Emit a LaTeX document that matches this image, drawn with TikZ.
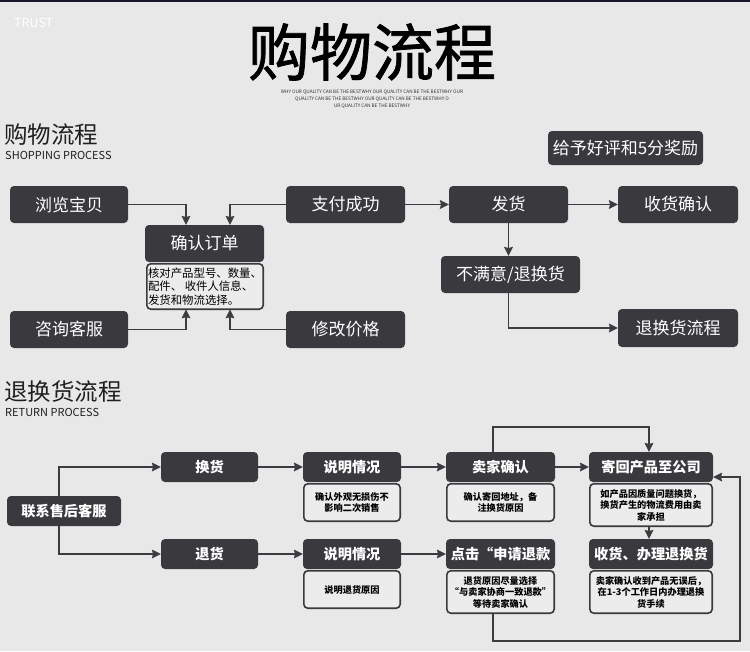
\documentclass[tikz,border=0pt]{standalone}
\usepackage{fontspec}
\setmainfont{Noto Sans CJK SC}
\newfontfamily\titlefont{Noto Sans CJK SC}[FakeBold=1.2]
\usetikzlibrary{arrows.meta}
\definecolor{bgc}{HTML}{E8E8E8}
\definecolor{boxc}{HTML}{3A393E}
\definecolor{linec}{HTML}{3C3B40}
\definecolor{detc}{HTML}{ECECEC}
\definecolor{navy}{HTML}{16162C}
\begin{document}
\begin{tikzpicture}[x=1pt,y=-1pt,
 dbox/.style={fill=boxc, rounded corners=4pt, text=white, inner sep=0pt, outer sep=0pt, align=center},
 tbox/.style={dbox, font=\fontsize{17}{20}\selectfont, minimum height=37pt},
 bbox/.style={dbox, font=\bfseries\fontsize{14.2}{17}\selectfont, minimum height=30pt},
 det/.style={draw=boxc, line width=1.6pt, fill=detc, rounded corners=4pt, inner sep=0pt, outer sep=0pt, align=center, font=\bfseries\fontsize{9.2}{11.5}\selectfont, text=black},
 arr/.style={draw=linec, line width=1.8pt, -{Stealth[length=9pt,width=8.5pt,inset=1pt]}},
 head/.style={anchor=west, inner sep=0pt, text=black!88},
]
\useasboundingbox (0,0) rectangle (750,651);
\fill[bgc] (0,0) rectangle (750,651);
\fill[navy] (0,0) rectangle (750,1.5);

% header
\node[head, text=white, font=\fontsize{12.5}{14}\selectfont] (trust) at (14,23) {TRUST};
\node[inner sep=0pt, font=\titlefont\fontsize{62}{62}\selectfont, text=black] (title) at (372,52) {购物流程};
\node[inner sep=0pt, align=center, text=black!80, font=\fontsize{4.7}{7}\selectfont] (tag) at (372,99)
 {WHY OUR QUALITY CAN BE THE BESTWHY OUR QUALITY CAN BE THE BESTWHY OUR\\QUALITY CAN BE THE BESTWHY OUR QUALITY CAN BE THE BESTWHY O\\UR QUALITY CAN BE THE BESTWHY};

% section 1 heading
\node[head, font=\fontsize{23.5}{26}\selectfont] (h1) at (4,135) {购物流程};
\node[head, font=\fontsize{11}{13}\selectfont] (h1e) at (5,155) {SHOPPING PROCESS};

% section 1 boxes
\node[tbox, minimum width=155pt, minimum height=34pt] (reward) at (625.5,148) {给予好评和5分奖励};
\node[tbox, minimum width=118pt] (browse) at (69,204.5) {浏览宝贝};
\node[tbox, minimum width=119pt] (pay) at (345.5,204.5) {支付成功};
\node[tbox, minimum width=119pt] (ship) at (508.5,204.5) {发货};
\node[tbox, minimum width=120pt] (receive) at (678,204.5) {收货确认};
\node[tbox, minimum width=119pt, minimum height=37pt] (confirm) at (204.5,243.5) {确认订单};
\node[det, minimum width=116.4pt, minimum height=45.4pt, align=left, font=\fontsize{11.4}{13.2}\selectfont] (cdetail) at (205,286.5)
 {核对产品型号、数量、\\配件、 收件人信息、\\发货和物流选择。};
\node[tbox, minimum width=118pt] (consult) at (69,329.5) {咨询客服};
\node[tbox, minimum width=119pt] (modify) at (345.5,329.5) {修改价格};
\node[tbox, minimum width=139pt] (unsat) at (510.5,274.5) {不满意/退换货};
\node[tbox, minimum width=120pt, minimum height=38pt] (rflow) at (678,328) {退换货流程};

% section 1 connectors
\draw[arr] (browse.east) -| ([xshift=-18.5pt]confirm.north);
\draw[arr] (pay.west) -| ([xshift=25.5pt]confirm.north);
\draw[arr] (consult.east) -| ([xshift=-19pt]cdetail.south);
\draw[arr] (modify.west) -| ([xshift=25pt]cdetail.south);
\draw[arr] (pay) -- (ship);
\draw[arr] (ship) -- (receive);
\draw[arr] (ship.south) -- (ship.south |- unsat.north);
\draw[arr] (ship.south |- unsat.south) |- (rflow.west);

% section 2 heading
\node[head, font=\fontsize{23.5}{26}\selectfont] (h2) at (4,392) {退换货流程};
\node[head, font=\fontsize{11}{13}\selectfont] (h2e) at (5,412) {RETURN PROCESS};

% section 2 boxes
\node[bbox, minimum width=114pt] (contact) at (64,511) {联系售后客服};
\node[bbox, minimum width=97pt] (exch) at (209.5,467) {换货};
\node[bbox, minimum width=97pt] (ret) at (209.5,554) {退货};
\node[bbox, minimum width=98pt] (exp1) at (352,467) {说明情况};
\node[det, minimum width=96.4pt, minimum height=37.4pt] (exp1d) at (352,502.5) {确认外观无损伤不\\影响二次销售};
\node[bbox, minimum width=98pt] (exp2) at (352,554) {说明情况};
\node[det, minimum width=96.4pt, minimum height=37.4pt] (exp2d) at (352,589.5) {说明退货原因};
\node[bbox, minimum width=109pt] (seller) at (500.5,467) {卖家确认};
\node[det, minimum width=107.4pt, minimum height=37.4pt] (sellerd) at (500.5,502.5) {确认寄回地址，备\\注换货原因};
\node[bbox, minimum width=109pt] (click) at (500.5,554) {点击“申请退款};
\node[det, minimum width=107.4pt, minimum height=42.4pt] (clickd) at (500.5,592) {退货原因尽量选择\\“与卖家协商一致退款”\\等待卖家确认};
\node[bbox, minimum width=124pt] (send) at (651,467) {寄回产品至公司};
\node[det, minimum width=122.4pt, minimum height=42.4pt] (sendd) at (651,505) {如产品因质量问题换货，\\换货产生的物流费用由卖\\家承担};
\node[bbox, minimum width=124pt] (recv) at (651,554) {收货、办理退换货};
\node[det, minimum width=122.4pt, minimum height=42.4pt] (recvd) at (651,592) {卖家确认收到产品无误后，\\在1-3个工作日内办理退换\\货手续};
\coordinate (rr) at (740,641);

% section 2 connectors
\draw[arr] ([xshift=-5pt]contact.north) |- (exch.west);
\draw[arr] ([xshift=-5pt]contact.south) |- (ret.west);
\draw[arr] (exch) -- (exp1);
\draw[arr] (ret) -- (exp2);
\draw[arr] (exp1) -- (seller);
\draw[arr] (exp2) -- (click);
\draw[arr] (seller) -- (send);
\draw[arr] ([xshift=-7.5pt]seller.north) -- ++(0,-25) -| ([xshift=-2pt]send.north);
\draw[arr] ([xshift=-2pt]sendd.south) -- ([xshift=-2pt]recv.north);
\draw[arr, rounded corners=0pt] ([xshift=-7.5pt]clickd.south) |- (rr) |- ([yshift=-10pt]send.east);
\end{tikzpicture}
\end{document}
